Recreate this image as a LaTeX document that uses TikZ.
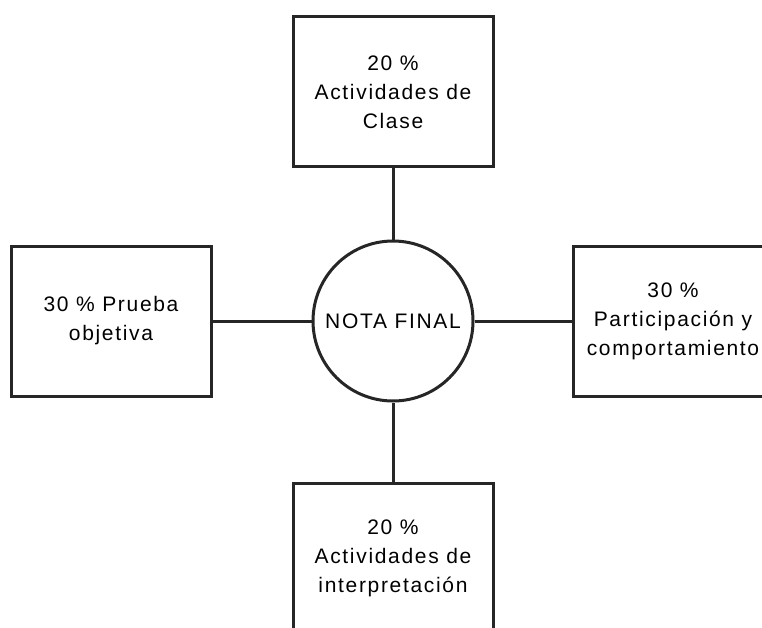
\documentclass[tikz,border=0pt]{standalone}
\usepackage{fontspec}
\setmainfont{Liberation Sans}[LetterSpace=8]

\begin{document}
\begin{tikzpicture}[x=1pt,y=1pt,line width=3pt,draw=black!85,
  box/.style={draw,rectangle,minimum width=200pt,minimum height=150pt,align=center,font=\fontsize{21}{29}\selectfont},
  nota/.style={draw,circle,minimum size=160pt,inner sep=0pt,font=\fontsize{21}{29}\selectfont}]

\useasboundingbox (0,0) rectangle (762,-628);

\node[nota](nf) at (393,-321){NOTA FINAL};
\node[box,node distance=229pt](clase)[above of=nf]{20 \%\\Actividades de\\Clase};
\node[box,node distance=237pt](interp)[below of=nf]{20 \%\\Actividades de\\interpretaci\'on};
\node[box,node distance=282pt](prueba)[left of=nf]{30 \% Prueba\\objetiva};
\node[box,node distance=280pt](partic)[right of=nf]{30 \%\\Participaci\'on y\\comportamiento};

\path (nf) edge (clase)
	(nf) edge (interp)
	(nf) edge (prueba)
	(nf) edge (partic);

\end{tikzpicture}
\end{document}
